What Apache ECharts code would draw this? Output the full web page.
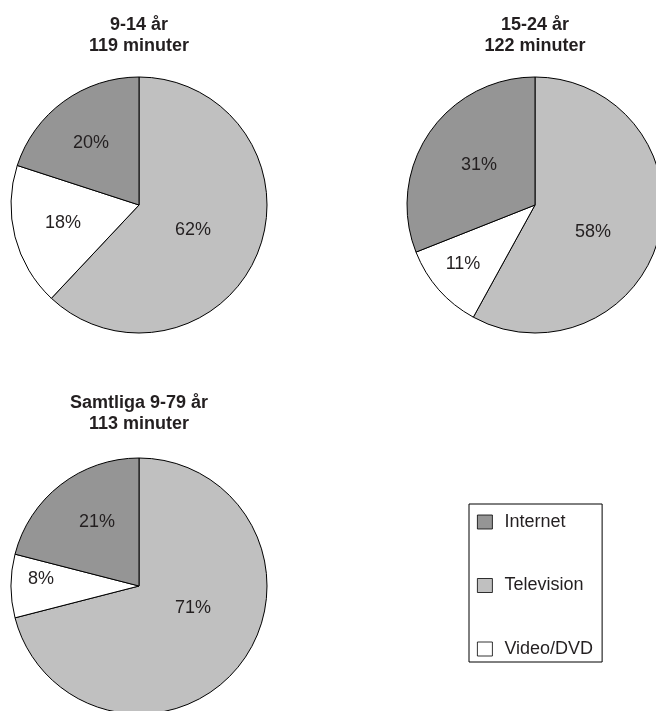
<!DOCTYPE html>
<html>
<head>
<meta charset="utf-8">
<script src="https://cdn.jsdelivr.net/npm/echarts@6/dist/echarts.min.js"></script>
<style>
html,body{margin:0;padding:0;background:#fff;}
#c{width:656px;height:711px;}
</style>
</head>
<body>
<div id="c"></div>
<script>
// Data
const categories = ['Television', 'Video/DVD', 'Internet'];
const legendOrder = ['Internet', 'Television', 'Video/DVD'];
const groupTitles = ['9-14 år', '15-24 år', 'Samtliga 9-79 år'];
const groupMinutes = ['119 minuter', '122 minuter', '113 minuter'];
const share_9_14 = [62, 18, 20];
const share_15_24 = [58, 11, 31];
const share_all = [71, 8, 21];

// Layout / style (not data)
const shares = [share_9_14, share_15_24, share_all];
const centers = [[139, 205], [535, 205], [139, 586]];
const titleTops = [15, 15, 393];
const radius = 128;
// label centre offsets from the pie centre (px), per slice
const labelOffsets = [
  [[54, 25], [-76, 18], [-48, -62]],
  [[58, 27], [-72, 59], [-56, -40]],
  [[54, 22], [-98, -7], [-42, -64]]
];
const colors = {'Television': '#c0c0c0', 'Video/DVD': '#ffffff', 'Internet': '#959595'};
const fontFam = '"Liberation Sans", Arial, Helvetica, sans-serif';
const textCol = '#231f20';

const chart = echarts.init(document.getElementById('c'), null, {renderer: 'canvas'});

const titles = groupTitles.map((t, i) => ({
  text: t + '\n' + groupMinutes[i],
  left: centers[i][0],
  top: titleTops[i],
  padding: 0,
  textAlign: 'center',
  textStyle: {fontFamily: fontFam, fontSize: 18, fontWeight: 'bold', color: textCol, lineHeight: 21}
}));

const series = shares.map((vals, si) => ({
  type: 'pie',
  center: centers[si],
  radius: radius,
  startAngle: 90,
  clockwise: true,
  animation: false,
  silent: true,
  label: {
    show: true, position: 'inside', formatter: '{c}%',
    fontFamily: fontFam, fontSize: 18, color: textCol
  },
  labelLine: {show: false},
  itemStyle: {borderColor: '#000', borderWidth: 1},
  emphasis: {disabled: true},
  labelLayout: function (p) {
    const c = centers[si];
    const r = p.labelRect;
    const lx = r.x + r.width / 2, ly = r.y + r.height / 2;
    const o = labelOffsets[si][p.dataIndex];
    return {dx: c[0] + o[0] - lx, dy: c[1] + o[1] - ly};
  },
  data: categories.map((n, i) => ({name: n, value: vals[i], itemStyle: {color: colors[n]}}))
}));

chart.setOption({
  backgroundColor: '#fff',
  animation: false,
  title: titles,
  legend: {
    data: legendOrder,
    orient: 'vertical',
    left: 469,
    top: 504,
    padding: [9, 9, 4, 8],
    borderColor: '#000',
    borderWidth: 1,
    itemWidth: 15,
    itemHeight: 14,
    itemGap: 45.5,
    icon: 'rect',
    selectedMode: false,
    itemStyle: {borderWidth: 0.8},
    textStyle: {fontFamily: fontFam, fontSize: 18, color: textCol, lineHeight: 18, padding: [0, 0, 0, 7]}
  },
  series: series
});
</script>
</body>
</html>
